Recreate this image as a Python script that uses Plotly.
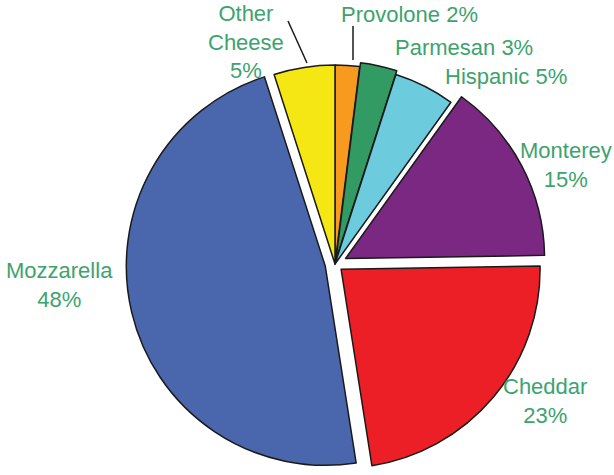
import plotly.graph_objects as go

# ---- data ----
categories = ["Provolone", "Parmesan", "Hispanic", "Monterey", "Cheddar", "Mozzarella", "Other Cheese"]
values = [2, 3, 5, 15, 23, 48, 5]
colors = ["#F79A1E", "#319B63", "#6CCBDC", "#7A2882", "#EC1F26", "#4A66AC", "#F4E713"]
pulls = [0, 0.02, 0, 0.06, 0.04, 0.05, 0]

W, H = 614, 475
# pie geometry in pixels (layout only)
cx, cy, R = 335, 264, 199
half = R * (1 + max(pulls))

dom_x = [max(0, (cx - half) / W), min(1, (cx + half) / W)]
y0 = max(0.0, 1 - (cy + half) / H)
dom_y = [y0, min(1.0, y0 + 2 * half / H)]

fig = go.Figure(go.Pie(
    labels=categories,
    values=values,
    sort=False,
    direction="clockwise",
    rotation=0,
    pull=pulls,
    marker=dict(colors=colors, line=dict(color="#1a1a1a", width=1.5)),
    textinfo="none",
    hoverinfo="label+percent",
    showlegend=False,
    domain=dict(x=dom_x, y=dom_y),
))

# label layout (pixel positions of label centres) and line breaks
label_layout = {
    "Provolone": (409, 15, " "),
    "Parmesan": (464, 47, " "),
    "Hispanic": (506, 76, " "),
    "Monterey": (566, 165, "<br>"),
    "Cheddar": (545, 401, "<br>"),
    "Mozzarella": (59, 285, "<br>"),
    "Other Cheese": (246, 42, "<br>"),
}

text_color = "#3DA36E"
annotations = []
for cat, val in zip(categories, values):
    px, py, sep = label_layout[cat]
    name = cat.replace(" ", "<br>")
    annotations.append(dict(
        x=px / W, y=1 - py / H, xref="paper", yref="paper",
        text=f"{name}{sep}{val}%",
        showarrow=False, xanchor="center", yanchor="middle",
        align="center",
        font=dict(family="Liberation Sans, Arial, sans-serif", size=22, color=text_color),
    ))

# leader lines (pixel coords)
leaders = [((288, 21), (307, 63)), ((353, 26), (353, 60))]
shapes = []
for (xa, ya), (xb, yb) in leaders:
    shapes.append(dict(type="line", xref="paper", yref="paper",
                       x0=xa / W, y0=1 - ya / H, x1=xb / W, y1=1 - yb / H,
                       line=dict(color="#1a1a1a", width=1.5)))

fig.update_layout(
    width=W, height=H,
    margin=dict(l=0, r=0, t=0, b=0),
    paper_bgcolor="white",
    plot_bgcolor="white",
    annotations=annotations,
    shapes=shapes,
)

fig.write_html("out.html", config={"displayModeBar": False},
               post_script="document.body.style.margin='0';")
